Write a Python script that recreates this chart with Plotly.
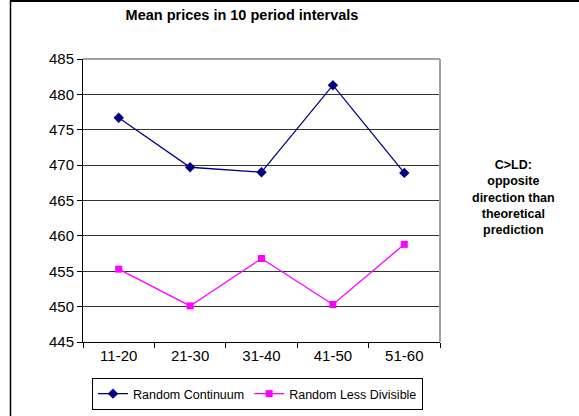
import plotly.graph_objects as go

categories = ["11-20", "21-30", "31-40", "41-50", "51-60"]
continuum = [476.7, 469.7, 469.0, 481.3, 468.9]
less_divisible = [455.3, 450.1, 456.8, 450.3, 458.8]
y_ticks = [445, 450, 455, 460, 465, 470, 475, 480, 485]

W, H = 579, 416
L, R, T, B = 83, 139, 59, 74
pw = W - L - R
ph = H - T - B

def px_x(p):
    return (p - L) / pw

def px_y(p):
    return (H - B - p) / ph

fig = go.Figure()
fig.add_trace(go.Scatter(
    x=categories, y=continuum, name="Random Continuum",
    mode="lines+markers",
    line=dict(color="#000080", width=1.3),
    marker=dict(symbol="diamond", size=8, color="#000080"),
))
fig.add_trace(go.Scatter(
    x=categories, y=less_divisible, name="Random Less Divisible",
    mode="lines+markers",
    line=dict(color="#FF00FF", width=1.3),
    marker=dict(symbol="square", size=7, color="#FF00FF"),
))

fig.update_layout(
    width=W, height=H,
    margin=dict(l=L, r=R, t=T, b=B, autoexpand=False),
    paper_bgcolor="white", plot_bgcolor="white",
    font=dict(family="Liberation Sans, Arial, sans-serif", color="black"),
    title=dict(text="<b>Mean prices in 10 period intervals</b>",
               x=242 / W, xanchor="center", y=1 - 15 / H, yanchor="middle",
               font=dict(size=14.5)),
    xaxis=dict(type="category", range=[-0.5, 4.5], tickson="boundaries",
               ticks="outside", ticklen=5, tickcolor="black",
               showline=True, linecolor="black", linewidth=1,
               showgrid=False, tickfont=dict(size=15), fixedrange=True),
    yaxis=dict(range=[445, 485], tickvals=y_ticks, ticks="outside", ticklen=5,
               tickcolor="black", showline=True, linecolor="black", linewidth=1,
               showgrid=True, gridcolor="#333333", gridwidth=1,
               zeroline=False, tickfont=dict(size=15)),
    legend=dict(orientation="h", x=px_x(92), y=px_y(378), xanchor="left",
                yanchor="top", bordercolor="black", borderwidth=1,
                font=dict(size=12.5), itemwidth=30, tracegroupgap=0,
                bgcolor="white"),
    showlegend=True,
)

# plot area gray frame (top and right)
fig.add_shape(type="line", xref="paper", yref="paper", x0=0, x1=1, y0=1, y1=1,
              line=dict(color="#A0A0A0", width=2))
fig.add_shape(type="line", xref="paper", yref="paper", x0=1, x1=1, y0=0, y1=1,
              line=dict(color="#A0A0A0", width=2))
# outer chart frame (top and left)
fig.add_shape(type="line", xref="paper", yref="paper",
              x0=px_x(10), x1=px_x(W + 5), y0=px_y(1), y1=px_y(1),
              line=dict(color="black", width=2))
fig.add_shape(type="line", xref="paper", yref="paper",
              x0=px_x(10.5), x1=px_x(10.5), y0=px_y(0), y1=px_y(H + 5),
              line=dict(color="black", width=1.5))

fig.add_annotation(
    text="<b>C>LD:<br>opposite<br>direction than<br>theoretical<br>prediction</b>",
    xref="paper", yref="paper", x=px_x(513), y=px_y(197),
    xanchor="center", yanchor="middle", showarrow=False,
    font=dict(size=12.5), align="center")

fig.write_html("out.html", config={"displayModeBar": False},
               post_script="document.body.style.margin='0';document.body.style.overflow='hidden';")
